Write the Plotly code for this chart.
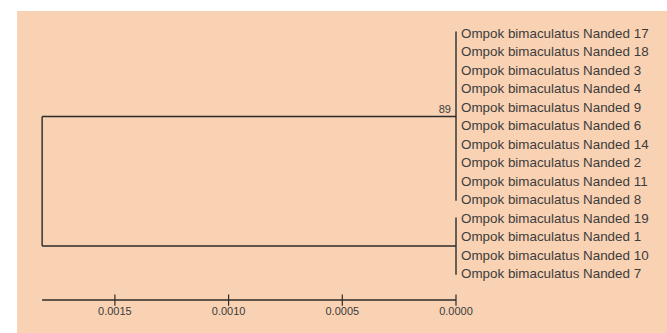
import plotly.graph_objects as go

# Leaf order (top to bottom) and clade membership
leaves = [
    "Ompok bimaculatus Nanded 17",
    "Ompok bimaculatus Nanded 18",
    "Ompok bimaculatus Nanded 3",
    "Ompok bimaculatus Nanded 4",
    "Ompok bimaculatus Nanded 9",
    "Ompok bimaculatus Nanded 6",
    "Ompok bimaculatus Nanded 14",
    "Ompok bimaculatus Nanded 2",
    "Ompok bimaculatus Nanded 11",
    "Ompok bimaculatus Nanded 8",
    "Ompok bimaculatus Nanded 19",
    "Ompok bimaculatus Nanded 1",
    "Ompok bimaculatus Nanded 10",
    "Ompok bimaculatus Nanded 7",
]
clade_a = leaves[:10]
clade_b = leaves[10:]

# Branch lengths (substitutions per site)
root_to_clade_a = 0.00182
root_to_clade_b = 0.00182
leaf_branch = 0.0
bootstrap_a = 89

scale_ticks = [0.0015, 0.0010, 0.0005, 0.0000]
scale_labels = ["0.0015", "0.0010", "0.0005", "0.0000"]

LINE = "#2b2b2b"
TEXT = "#3c3c3c"
BG = "#F9D2B3"
FONT = "Liberation Sans, Arial, sans-serif"

# Pixel scale of the distance axis, used for the small label gaps
px_per_unit = 113.7 / 0.0005
gap = 5 / px_per_unit

# Node heights measured back from the tips
root_h = max(root_to_clade_a, root_to_clade_b) + leaf_branch
node_a_h = root_h - root_to_clade_a
node_b_h = root_h - root_to_clade_b

idx = {name: i for i, name in enumerate(leaves)}
ya = [idx[n] for n in clade_a]
yb = [idx[n] for n in clade_b]
node_a_y = (min(ya) + max(ya)) / 2
node_b_y = (min(yb) + max(yb)) / 2

xs, ys = [], []


def seg(x0, y0, x1, y1):
    xs.extend([x0, x1, None])
    ys.extend([y0, y1, None])


# Root vertical and the two stems
seg(root_h, node_a_y, root_h, node_b_y)
seg(root_h, node_a_y, node_a_h, node_a_y)
seg(root_h, node_b_y, node_b_h, node_b_y)
# Clade verticals
seg(node_a_h, min(ya) - 0.1, node_a_h, max(ya) + 0.05)
seg(node_b_h, min(yb) - 0.05, node_b_h, max(yb) + 0.05)
# Terminal branches
for n in leaves:
    h = node_a_h if n in clade_a else node_b_h
    seg(h, idx[n], h - leaf_branch, idx[n])

fig = go.Figure()
fig.add_trace(go.Scatter(x=xs, y=ys, mode="lines",
                         line=dict(color=LINE, width=1.4),
                         hoverinfo="skip", showlegend=False))

# Leaf labels (nudged slightly down so glyphs sit centred on the tips)
leaf_x = [(node_a_h if n in clade_a else node_b_h) - leaf_branch - gap for n in leaves]
fig.add_trace(go.Scatter(
    x=leaf_x, y=[i + 0.06 for i in range(len(leaves))],
    mode="text", text=leaves, textposition="middle right",
    textfont=dict(family=FONT, size=13.4, color=TEXT),
    hoverinfo="skip", showlegend=False))

# Bootstrap support
fig.add_trace(go.Scatter(
    x=[node_a_h + gap], y=[node_a_y - 0.05], mode="text", text=[str(bootstrap_a)],
    textposition="top left", textfont=dict(family=FONT, size=11, color=TEXT),
    hoverinfo="skip", showlegend=False))

# Scale bar beneath the tree
bar_y = len(leaves) + 0.42
fig.add_trace(go.Scatter(
    x=[root_h, 0.0], y=[bar_y, bar_y], mode="lines",
    line=dict(color=LINE, width=1.4), hoverinfo="skip", showlegend=False))
fig.add_trace(go.Scatter(
    x=scale_ticks, y=[bar_y] * len(scale_ticks), mode="markers",
    marker=dict(symbol="line-ns", size=8, line=dict(color=LINE, width=1.2)),
    hoverinfo="skip", showlegend=False))
fig.add_trace(go.Scatter(
    x=scale_ticks, y=[bar_y + 0.65] * len(scale_ticks), mode="text",
    text=scale_labels, textposition="middle center",
    textfont=dict(family=FONT, size=11, color=TEXT),
    hoverinfo="skip", showlegend=False))

fig.update_layout(
    width=667, height=333,
    margin=dict(l=17, r=0, t=11, b=0),
    paper_bgcolor="white", plot_bgcolor=BG,
    xaxis=dict(range=[(456 - 17) / px_per_unit, -(667 - 456) / px_per_unit],
               visible=False, fixedrange=True),
    yaxis=dict(range=[(333 - 33.3) / 18.5, (11 - 33.3) / 18.5],
               visible=False, fixedrange=True),
)

fig.write_html("out.html")
